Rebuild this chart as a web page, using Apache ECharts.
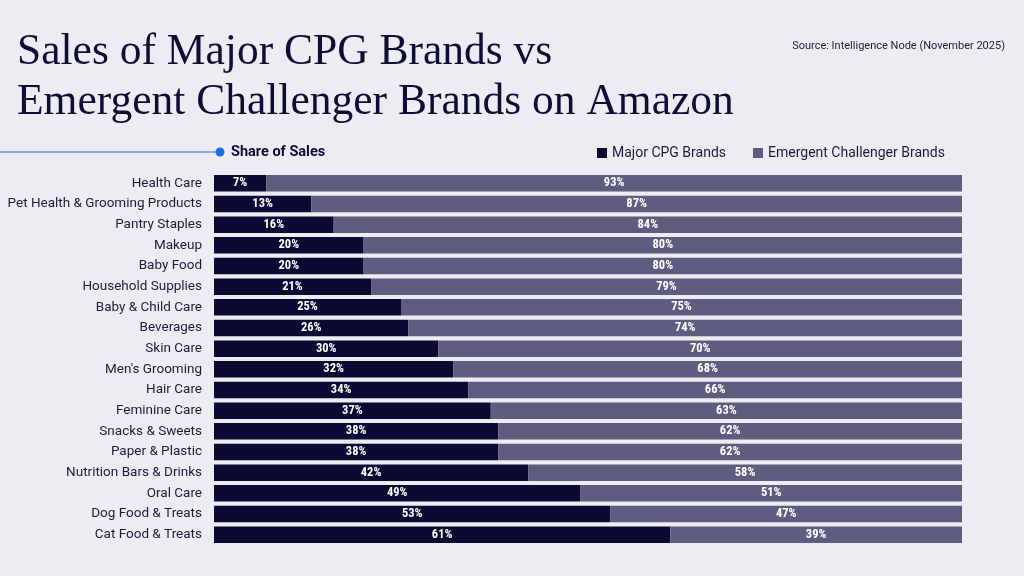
<!DOCTYPE html>
<html>
<head>
<meta charset="utf-8">
<script src="https://cdn.jsdelivr.net/npm/echarts@6/dist/echarts.min.js"></script>
<style>
html,body{margin:0;padding:0;background:#ECECF2;}
#c{width:1024px;height:576px;}
</style>
</head>
<body>
<div id="c"></div>
<script>
var categories = ["Health Care","Pet Health & Grooming Products","Pantry Staples","Makeup","Baby Food","Household Supplies","Baby & Child Care","Beverages","Skin Care","Men's Grooming","Hair Care","Feminine Care","Snacks & Sweets","Paper & Plastic","Nutrition Bars & Drinks","Oral Care","Dog Food & Treats","Cat Food & Treats"];
var majorCPG = [7,13,16,20,20,21,25,26,30,32,34,37,38,38,42,49,53,61];
var challenger = [93,87,84,80,80,79,75,74,70,68,66,63,62,62,58,51,47,39];

var chart = echarts.init(document.getElementById('c'));
var labelStyle = {show: true, position: 'inside', formatter: '{c}%', color: '#fff', fontFamily: 'Liberation Sans Narrow, Roboto Condensed, Roboto', fontWeight: 'bold', fontSize: 12.5};
chart.setOption({
  backgroundColor: '#ECECF2',
  animation: false,
  title: [
    {
      text: 'Sales of Major CPG Brands vs\nEmergent Challenger Brands on Amazon',
      left: 17, top: 28, padding: 0,
      textStyle: {fontFamily: 'Liberation Serif', fontSize: 43.5, fontWeight: 'normal', color: '#0E0D35', lineHeight: 50}
    },
    {
      text: 'Source: Intelligence Node (November 2025)',
      right: 19, top: 41, padding: 0,
      textStyle: {fontFamily: 'Roboto', fontSize: 11, fontWeight: 'normal', color: '#1c1c3a'}
    },
    {
      text: 'Share of Sales',
      left: 231, top: 145, padding: 0,
      textStyle: {fontFamily: 'Roboto', fontSize: 14.5, fontWeight: 'bold', color: '#0E0D35'}
    }
  ],
  graphic: [
    {type: 'line', shape: {x1: 0, y1: 152, x2: 216, y2: 152}, style: {stroke: '#1E6FE0', lineWidth: 1.2}},
    {type: 'circle', shape: {cx: 220, cy: 152, r: 4.5}, style: {fill: '#1E6FE0'}}
  ],
  legend: {
    left: 597, top: 146, padding: 0,
    itemWidth: 10, itemHeight: 10, itemGap: 27,
    icon: 'rect',
    textStyle: {fontFamily: 'Roboto', fontSize: 14, color: '#1c1c3a'},
    data: ['Major CPG Brands', 'Emergent Challenger Brands']
  },
  grid: {left: 214, right: 62, top: 173, height: 372, containLabel: false},
  xAxis: {type: 'value', min: 0, max: 100, show: false},
  yAxis: {
    type: 'category', data: categories, inverse: true,
    axisLine: {show: false}, axisTick: {show: false},
    axisLabel: {margin: 12, fontFamily: 'Roboto', fontSize: 13.5, color: '#1c1c3a'}
  },
  series: [
    {
      name: 'Major CPG Brands', type: 'bar', stack: 's', data: majorCPG, barWidth: '80%',
      itemStyle: {color: '#0B0A33'},
      label: labelStyle
    },
    {
      name: 'Emergent Challenger Brands', type: 'bar', stack: 's', data: challenger, barWidth: '80%',
      itemStyle: {color: '#5E5D80'},
      label: labelStyle
    }
  ]
});
</script>
</body>
</html>
